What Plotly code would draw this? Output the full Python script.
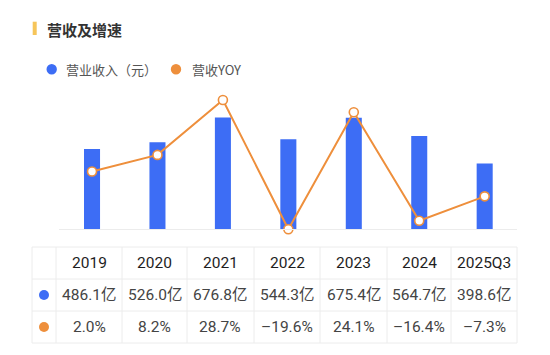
import plotly.graph_objects as go

# ---- data ----
categories = ["2019", "2020", "2021", "2022", "2023", "2024", "2025Q3"]
revenue = [486.1, 526.0, 676.8, 544.3, 675.4, 564.7, 398.6]   # 亿元
yoy = [2.0, 8.2, 28.7, -19.6, 24.1, -16.4, -7.3]              # %
title_text = "营收及增速"
series_names = ["营业收入（元）", "营收YOY"]

# ---- style ----
W, H = 550, 355
BLUE = "#3d6df5"
ORANGE = "#ee8f3c"
FONT = "Roboto, 'Noto Sans CJK SC', sans-serif"
CJK = "'Noto Sans CJK SC', Roboto, sans-serif"
GRID = "#ececec"


def px(x):
    return x / W


def py(y):
    return 1 - y / H


fig = go.Figure()
fig.add_trace(go.Bar(
    x=categories, y=revenue, name=series_names[0],
    marker=dict(color=BLUE, line=dict(width=0)), width=0.245,
    yaxis="y", hoverinfo="skip",
))
fig.add_trace(go.Scatter(
    x=categories, y=yoy, name=series_names[1], mode="lines+markers",
    line=dict(color=ORANGE, width=2),
    marker=dict(size=9, color="white", line=dict(color=ORANGE, width=1.6)),
    yaxis="y2", cliponaxis=False, hoverinfo="skip",
))

shapes = []
annotations = []

# title bar + title
shapes.append(dict(type="rect", xref="paper", yref="paper",
                   x0=px(32.7), x1=px(36.7), y0=py(35), y1=py(21.7),
                   fillcolor="#f6c55a", line=dict(width=0), layer="above"))
annotations.append(dict(text="<b>" + title_text + "</b>", x=px(45), y=py(29),
                        xref="paper", yref="paper", xanchor="left", yanchor="middle",
                        showarrow=False, font=dict(family=CJK, size=15, color="#333333")))

# legend
legend_items = [(51.7, 64, BLUE, series_names[0]), (176, 189.5, ORANGE, series_names[1])]
for cx, tx, col, name in legend_items:
    shapes.append(dict(type="circle", xref="paper", yref="paper",
                       x0=px(cx - 5.2), x1=px(cx + 5.2), y0=py(69.3 + 5.2), y1=py(69.3 - 5.2),
                       fillcolor=col, line=dict(width=0)))
    annotations.append(dict(text=name, x=px(tx), y=py(69.5), xref="paper", yref="paper",
                            xanchor="left", yanchor="middle", showarrow=False,
                            font=dict(family=CJK, size=13, color="#555555")))

# table grid
col_edges = [32, 56, 122, 187, 254, 320, 387, 451, 517]
row_edges = [247, 279, 311, 343]
for x in col_edges:
    shapes.append(dict(type="line", xref="paper", yref="paper",
                       x0=px(x), x1=px(x), y0=py(row_edges[0]), y1=py(row_edges[-1]),
                       line=dict(color=GRID, width=1)))
for y in row_edges:
    shapes.append(dict(type="line", xref="paper", yref="paper",
                       x0=px(col_edges[0]), x1=px(col_edges[-1]), y0=py(y), y1=py(y),
                       line=dict(color=GRID, width=1)))

row_centers = [(row_edges[i] + row_edges[i + 1]) / 2 for i in range(3)]
# marker dots in first column
for col, yc in [(BLUE, row_centers[1]), (ORANGE, row_centers[2])]:
    cx = 44
    shapes.append(dict(type="circle", xref="paper", yref="paper",
                       x0=px(cx - 5), x1=px(cx + 5), y0=py(yc + 5), y1=py(yc - 5),
                       fillcolor=col, line=dict(width=0)))

rev_text = [f"{v:.1f}亿" for v in revenue]
yoy_text = [f"{v:.1f}%".replace("-", "–") for v in yoy]
for i, cat in enumerate(categories):
    xc = (col_edges[i + 1] + col_edges[i + 2]) / 2
    annotations.append(dict(text=cat, x=px(xc), y=py(row_centers[0]), xref="paper", yref="paper",
                            xanchor="center", yanchor="middle", showarrow=False,
                            font=dict(family=FONT, size=15.5, color="#1e1e1e")))
    annotations.append(dict(text=rev_text[i], x=px(xc), y=py(row_centers[1]), xref="paper", yref="paper",
                            xanchor="center", yanchor="middle", showarrow=False,
                            font=dict(family=FONT, size=15.5, color="#444444")))
    annotations.append(dict(text=yoy_text[i], x=px(xc), y=py(row_centers[2]), xref="paper", yref="paper",
                            xanchor="center", yanchor="middle", showarrow=False,
                            font=dict(family=FONT, size=15.5, color="#444444")))

fig.update_layout(
    width=W, height=H,
    margin=dict(l=0, r=0, t=0, b=0),
    paper_bgcolor="white", plot_bgcolor="white",
    showlegend=False,
    xaxis=dict(domain=[px(59.3), px(517.4)], type="category",
               showline=True, linecolor=GRID, linewidth=1,
               showticklabels=False, ticks="", showgrid=False, zeroline=False,
               fixedrange=True),
    yaxis=dict(domain=[py(229.3), py(100)], range=[0, 782],
               showgrid=False, zeroline=False, showticklabels=False, ticks="",
               showline=False, fixedrange=True),
    yaxis2=dict(overlaying="y", range=[min(yoy), max(yoy)],
                showgrid=False, zeroline=False, showticklabels=False, ticks="",
                showline=False, fixedrange=True),
    shapes=shapes,
    annotations=annotations,
)

fig.write_html("out.html", config={"displayModeBar": False},
               post_script="document.body.style.margin='0';document.body.style.overflow='hidden';")
